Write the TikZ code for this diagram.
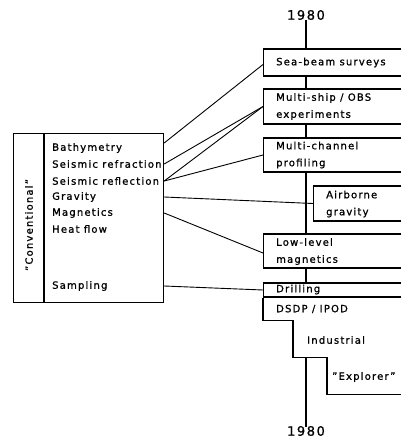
\documentclass[tikz,border=0pt]{standalone}
\usepackage{fontspec}
\setmainfont{DejaVu Sans}[LetterSpace=12, FakeBold=1]
\begin{document}
\begin{tikzpicture}[x=1pt,y=-1pt,
  lbl/.style={font=\fontsize{10}{17}\selectfont, inner sep=0pt, anchor=west, align=left},
  box/.style={draw, line width=1.2pt, anchor=west, inner sep=0pt, minimum width=160pt},
  conn/.style={line width=0.9pt},
  tline/.style={line width=1.3pt},
  year/.style={font=\fontsize{13}{15}\selectfont, inner sep=0pt}
]
\useasboundingbox (0,0) rectangle (401,439);
\begin{scope}
\clip (0,0) rectangle (401,439);
% right column boxes
\node[box, minimum height=27pt] (sea) at (263,62.5) {};
\node[lbl] (seat) at (276,62.5) {Sea-beam surveys};
\node[box, minimum height=35pt] (ms) at (263,106.5) {};
\node[lbl] (mst) at (276,106.5) {Multi-ship / OBS\\experiments};
\node[box, minimum height=34pt] (mc) at (263,155) {};
\node[lbl] (mct) at (276,155) {Multi-channel\\profiling};
\node[box, minimum height=35pt] (ag) at (313,203.5) {};
\node[lbl] (agt) at (326,204) {Airborne\\gravity};
\node[box, minimum height=34pt] (ll) at (263,251) {};
\node[lbl] (llt) at (276,251.5) {Low-level\\magnetics};
\node[box, minimum height=14pt] (dr) at (263,290) {};
\node[lbl] (drt) at (276,289.5) {Drilling};
\draw[line width=1.2pt] (dr.south west) -- ++(0,23) -- ++(30,0) -- ++(0,37)
  coordinate (s1) -- ++(34,0) -- ++(0,37) -- ++(100,0);
\node[lbl] (dsdp) at (276,309) {DSDP / IPOD};
\node[lbl] (ind) at (307,340) {Industrial};
\node[lbl] (expl) at (332,377) {"Explorer"};
\end{scope}
% years and timeline
\node[year] (y1) at (306,15) {1980};
\node[year] (y2) at (306,431) {1980};
\draw[tline] (y1.south) -- (y1.south |- sea.north);
\draw[tline] (y1 |- sea.south) -- (y1 |- ms.north);
\draw[tline] (y1 |- ms.south) -- (y1 |- mc.north);
\draw[tline] (y1 |- mc.south) -- (y1 |- ll.north);
\draw[tline] (y1 |- ll.south) -- (y1 |- dr.north);
\draw[tline] (y1 |- s1) -- ([yshift=-1pt]y2.north);
% left box
\node[draw, line width=1.2pt, minimum width=150pt, minimum height=169pt,
  anchor=north west, inner sep=0pt] (conv) at (13,133) {};
\draw[line width=1.2pt] ([xshift=31pt]conv.north west) -- ([xshift=31pt]conv.south west);
\node[lbl, rotate=90, anchor=center] (convt) at (29,225) {"Conventional"};
\node[lbl] (bathy) at (52,148) {Bathymetry};
\node[lbl] (refr) at (52,164) {Seismic refraction};
\node[lbl] (refl) at (52,181) {Seismic reflection};
\node[lbl] (grav) at (52,197) {Gravity};
\node[lbl] (mag) at (52,213) {Magnetics};
\node[lbl] (heat) at (52,229) {Heat flow};
\node[lbl] (samp) at (52,286) {Sampling};
% connectors
\draw[conn] (conv.east |- bathy.north) -- ([yshift=-2pt]sea.west);
\draw[conn] (conv.east |- refr) -- (ms.west);
\draw[conn] (conv.east |- refl) -- (ms.west);
\draw[conn] (conv.east |- refl) -- (mc.west);
\draw[conn] (conv.east |- grav) -- (ag.west);
\draw[conn] (conv.east |- mag) -- ([yshift=-2pt]ll.west);
\draw[conn] (conv.east |- samp) -- (dr.west);
\end{tikzpicture}
\end{document}
